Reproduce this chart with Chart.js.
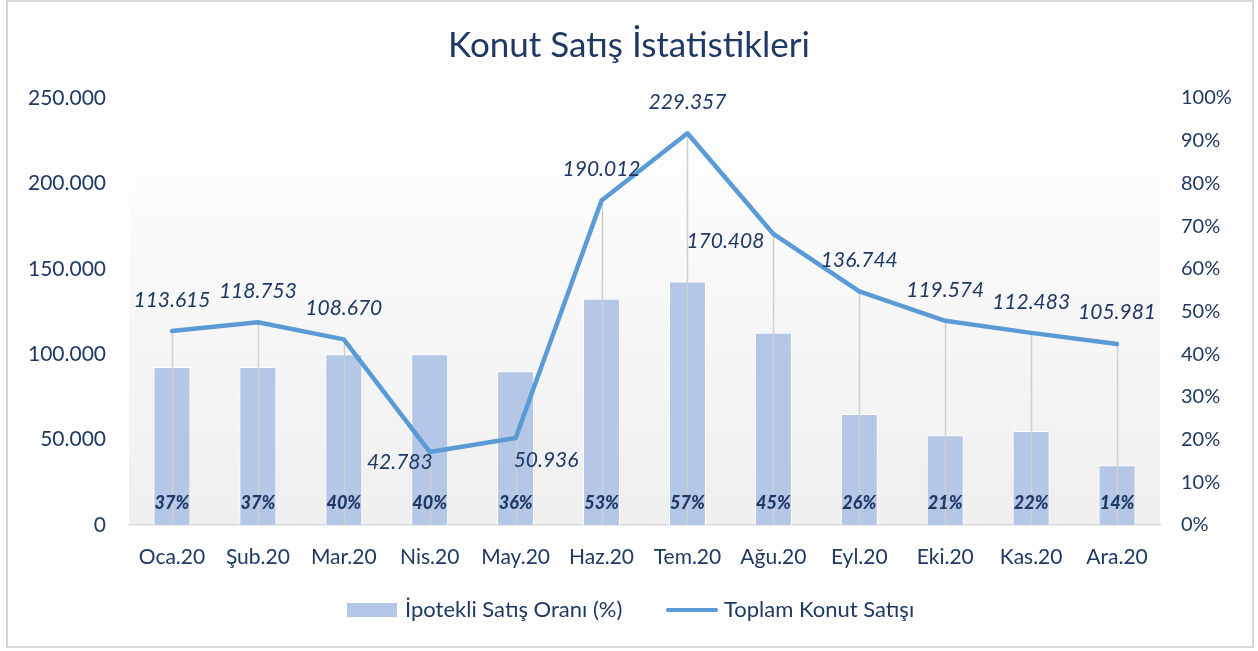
<!DOCTYPE html>
<html>
<head>
<meta charset="utf-8">
<script src="https://cdn.jsdelivr.net/npm/chart.js@4.4.1/dist/chart.umd.min.js"></script>
<style>
html,body{margin:0;padding:0;background:#fff;}
canvas{display:block;}
</style>
</head>
<body>
<canvas id="c" width="1258" height="651"></canvas>
<script>
// ---- data ----
const categories = ['Oca.20','Şub.20','Mar.20','Nis.20','May.20','Haz.20','Tem.20','Ağu.20','Eyl.20','Eki.20','Kas.20','Ara.20'];
const totalSales = [113615,118753,108670,42783,50936,190012,229357,170408,136744,119574,112483,105981];
const mortgageShare = [37,37,40,40,36,53,57,45,26,21,22,14];
const leftTicks = [0,50000,100000,150000,200000,250000];
const rightTicks = [0,10,20,30,40,50,60,70,80,90,100];
const titleText = 'Konut Satış İstatistikleri';
const barSeriesName = 'İpotekli Satış Oranı (%)';
const lineSeriesName = 'Toplam Konut Satışı';

// ---- style ----
const NAVY = '#1F3864';
const FONT = 'Lato, "Open Sans", sans-serif';
// label placement relative to its point: [dx, dy, align]
const labelPlacement = [[0,-31,'center'],[0,-31,'center'],[0,-31,'center'],[3,10,'right'],[-2,22,'left'],[0,-31,'center'],[0,-31,'center'],[-9,7,'right'],[0,-31,'center'],[0,-31,'center'],[0,-31,'center'],[0,-32,'center']];

function fmt(n){return String(n).replace(/\B(?=(\d{3})+(?!\d))/g,'.');}

const decor = {
  id:'decor',
  beforeDraw(chart){
    const ctx = chart.ctx, a = chart.chartArea;
    ctx.save();
    ctx.fillStyle = '#fff';
    ctx.fillRect(0,0,chart.width,chart.height);
    const g = ctx.createLinearGradient(0,a.top,0,a.bottom);
    g.addColorStop(0,'#ffffff');
    g.addColorStop(1,'#efefef');
    ctx.fillStyle = g;
    ctx.fillRect(a.left,a.top,a.right-a.left,a.bottom-a.top);
    ctx.restore();
  },
  beforeDatasetDraw(chart,args){
    if(args.index!==1) return;
    const ctx = chart.ctx, meta = chart.getDatasetMeta(1), a = chart.chartArea;
    ctx.save();
    ctx.strokeStyle = '#cfcfcf';
    ctx.lineWidth = 1.5;
    meta.data.forEach(p=>{
      ctx.beginPath();
      ctx.moveTo(Math.round(p.x)+0.5,p.y);
      ctx.lineTo(Math.round(p.x)+0.5,a.bottom);
      ctx.stroke();
    });
    ctx.restore();
  },
  afterDatasetsDraw(chart){
    const ctx = chart.ctx, a = chart.chartArea;
    ctx.save();
    // percent labels
    const bm = chart.getDatasetMeta(0);
    ctx.fillStyle = NAVY;
    ctx.font = 'italic 900 18px '+FONT;
    ctx.textAlign = 'center';
    ctx.textBaseline = 'middle';
    bm.data.forEach((b,i)=>{
      ctx.fillText(mortgageShare[i]+'%', b.x, a.bottom-22);
    });
    // value labels
    const lm = chart.getDatasetMeta(1);
    ctx.font = 'italic 21px '+FONT;
    lm.data.forEach((p,i)=>{
      const [dx,dy,al] = labelPlacement[i];
      ctx.textAlign = al;
      ctx.fillText(fmt(totalSales[i]), p.x+dx, p.y+dy);
    });
    ctx.restore();
  },
  afterDraw(chart){
    const ctx = chart.ctx;
    ctx.save();
    // title
    ctx.fillStyle = NAVY;
    ctx.font = '35px '+FONT;
    ctx.textAlign = 'center';
    ctx.textBaseline = 'middle';
    ctx.fillText(titleText, 629, 46);
    // legend
    ctx.fillStyle = '#b4c7e7';
    ctx.fillRect(347,603,50,14);
    ctx.strokeStyle = '#5b9bd5';
    ctx.lineWidth = 4;
    ctx.lineCap = 'round';
    ctx.beginPath(); ctx.moveTo(668,610); ctx.lineTo(716,610); ctx.stroke();
    ctx.fillStyle = NAVY;
    ctx.font = '22px '+FONT;
    ctx.textAlign = 'left';
    ctx.fillText(barSeriesName, 405, 610);
    ctx.fillText(lineSeriesName, 724, 610);
    // frame
    ctx.strokeStyle = '#d9d9d9';
    ctx.lineWidth = 2;
    ctx.lineCap = 'butt';
    ctx.strokeRect(7,1,1246,646);
    ctx.restore();
  }
};

new Chart(document.getElementById('c'),{
  data:{
    labels: categories,
    datasets:[
      {type:'bar', label:barSeriesName, data:mortgageShare, yAxisID:'y1', backgroundColor:'#b4c7e7', borderColor:'#ffffff', borderWidth:1, categoryPercentage:1, barPercentage:0.43, order:1},
      {type:'line', label:lineSeriesName, data:totalSales, yAxisID:'y', borderColor:'#5b9bd5', borderWidth:4.5, pointRadius:0, tension:0, borderJoinStyle:'round', borderCapStyle:'round', order:0}
    ]
  },
  options:{
    responsive:false,
    animation:false,
    devicePixelRatio:1,
    layout:{padding:{top:98,bottom:76,left:0,right:0}},
    plugins:{legend:{display:false},tooltip:{enabled:false},title:{display:false}},
    scales:{
      x:{
        grid:{display:false},
        border:{display:true,color:'#d9d9d9',width:1.5},
        ticks:{color:NAVY,font:{family:FONT,size:21},padding:12,maxRotation:0},
        afterFit(s){s.height=50;}
      },
      y:{
        position:'left', min:0, max:250000,
        grid:{display:false,drawTicks:false},
        border:{display:false},
        afterBuildTicks(s){s.ticks = leftTicks.map(v=>({value:v}));},
        ticks:{color:NAVY,font:{family:FONT,size:21},padding:23,callback:v=>fmt(v)},
        afterFit(s){s.width=129;}
      },
      y1:{
        position:'right', min:0, max:100,
        grid:{display:false,drawTicks:false},
        border:{display:false},
        afterBuildTicks(s){s.ticks = rightTicks.map(v=>({value:v}));},
        ticks:{color:NAVY,font:{family:FONT,size:20},padding:21,callback:v=>v+'%'},
        afterFit(s){s.width=98;}
      }
    }
  },
  plugins:[decor]
});
</script>
</body>
</html>
